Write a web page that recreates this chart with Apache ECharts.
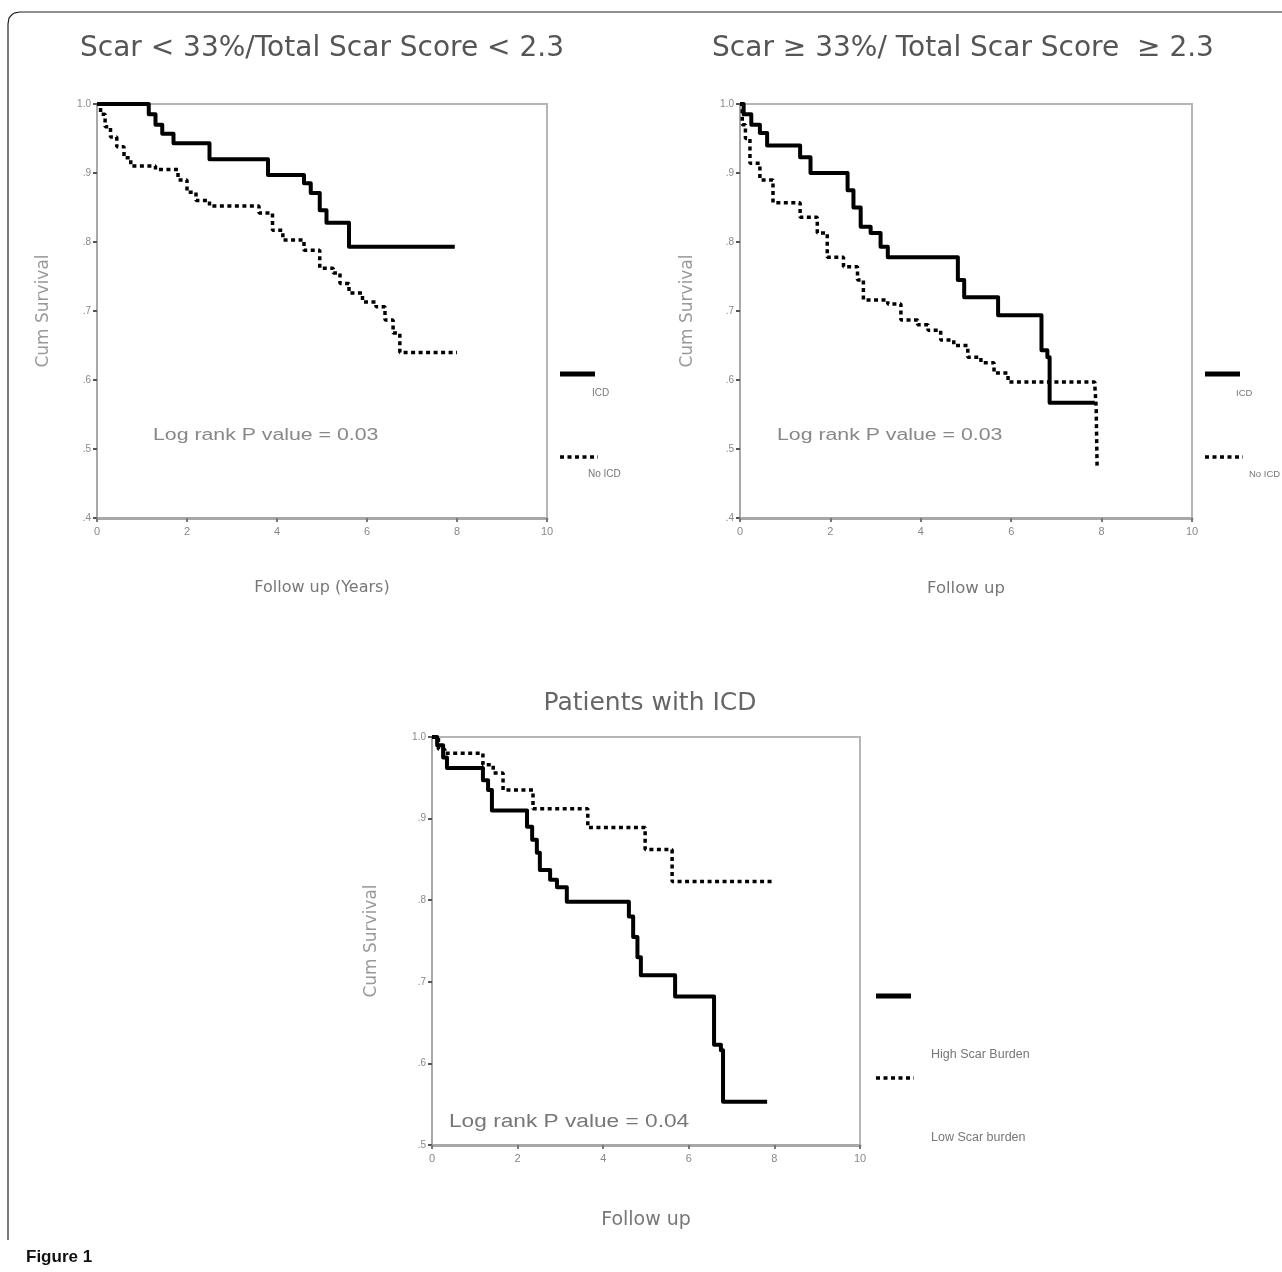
<!DOCTYPE html>
<html>
<head>
<meta charset="utf-8">
<script src="https://cdn.jsdelivr.net/npm/echarts/dist/echarts.min.js"></script>
<style>
html,body{margin:0;padding:0;background:#fff;}
#chart{width:1282px;height:1272px;}
</style>
</head>
<body>
<div id="chart"></div>
<script>
// ---- Data (time in years, cumulative survival) ----
const titleLeft = "Scar < 33%/Total Scar Score < 2.3";
const titleRight = "Scar \u2265 33%/ Total Scar Score  \u2265 2.3";
const titleBottom = "Patients with ICD";

const xTicks = [0, 2, 4, 6, 8, 10];
const yTicksTop = ["1.0", ".9", ".8", ".7", ".6", ".5", ".4"];
const yTicksBottom = ["1.0", ".9", ".8", ".7", ".6", ".5"];

// Top-left: Scar < 33%
const lowScarICD = [[0,1.0],[1.15,0.985],[1.3,0.97],[1.45,0.957],[1.7,0.943],[2.5,0.92],[3.8,0.897],[4.6,0.885],[4.75,0.871],[4.95,0.846],[5.1,0.828],[5.6,0.793],[7.95,0.793]];
const lowScarNoICD = [[0,1.0],[0.08,0.985],[0.18,0.967],[0.3,0.952],[0.44,0.938],[0.6,0.922],[0.75,0.91],[1.3,0.905],[1.8,0.89],[2.0,0.872],[2.2,0.86],[2.5,0.852],[3.6,0.842],[3.9,0.817],[4.13,0.803],[4.6,0.788],[4.95,0.762],[5.25,0.755],[5.4,0.74],[5.6,0.726],[5.9,0.713],[6.2,0.706],[6.4,0.687],[6.58,0.668],[6.73,0.64],[8.0,0.64]];

// Top-right: Scar >= 33%
const highScarICD = [[0,1.0],[0.08,0.985],[0.25,0.97],[0.44,0.958],[0.6,0.94],[1.33,0.923],[1.56,0.90],[2.38,0.875],[2.51,0.85],[2.67,0.822],[2.89,0.813],[3.11,0.793],[3.27,0.778],[4.82,0.745],[4.96,0.72],[5.71,0.694],[6.67,0.643],[6.8,0.633],[6.85,0.567],[7.85,0.567]];
const highScarNoICD = [[0,1.0],[0.05,0.97],[0.12,0.95],[0.22,0.914],[0.44,0.89],[0.73,0.857],[1.33,0.836],[1.71,0.813],[1.93,0.778],[2.29,0.764],[2.6,0.745],[2.73,0.716],[3.27,0.71],[3.56,0.687],[3.93,0.68],[4.16,0.672],[4.44,0.658],[4.73,0.65],[5.04,0.633],[5.33,0.625],[5.62,0.61],[5.93,0.597],[7.85,0.592],[7.88,0.56],[7.9,0.475]];

// Bottom: Patients with ICD
const icdHighBurden = [[0,1.0],[0.12,0.99],[0.26,0.975],[0.35,0.962],[1.19,0.947],[1.31,0.935],[1.4,0.91],[2.22,0.89],[2.34,0.874],[2.45,0.858],[2.52,0.837],[2.76,0.825],[2.92,0.816],[3.15,0.798],[4.6,0.78],[4.7,0.755],[4.8,0.73],[4.88,0.708],[5.68,0.682],[6.59,0.623],[6.75,0.616],[6.8,0.553],[7.83,0.553]];
const icdLowBurden = [[0,1.0],[0.15,0.985],[0.3,0.98],[1.19,0.966],[1.43,0.956],[1.66,0.935],[2.36,0.912],[3.64,0.889],[4.98,0.862],[5.61,0.823],[7.95,0.823]];

const pTextTop = "Log rank P value = 0.03";
const pTextBottom = "Log rank P value = 0.04";

// ---- Styling ----
const FONT = "Liberation Sans, Arial, sans-serif";
const TFONT = "DejaVu Sans, Liberation Sans, sans-serif";

function yLabel(v){
  if (Math.abs(v - 1) < 1e-6) return "1.0";
  return "." + Math.round(v * 10);
}

function xAxis(gi, name, gap, fs){
  return {
    type: "value", gridIndex: gi, min: 0, max: 10, interval: 2,
    name: name, nameLocation: "middle", nameGap: gap,
    nameTextStyle: {color: "#777", fontSize: fs, fontFamily: TFONT},
    axisLine: {show: true, lineStyle: {color: "#a8a8a8", width: 3}},
    axisTick: {show: true, length: 4, lineStyle: {color: "#777", width: 2}},
    axisLabel: {color: "#888", fontSize: 11, fontFamily: FONT, margin: 8},
    splitLine: {show: false}
  };
}
function yAxis(gi, min, gap){
  return {
    type: "value", gridIndex: gi, min: min, max: 1.0, interval: 0.1,
    name: "Cum Survival", nameLocation: "middle", nameGap: gap,
    nameTextStyle: {color: "#999", fontSize: 17, fontFamily: TFONT},
    axisLine: {show: true, lineStyle: {color: "#a8a8a8", width: 2}},
    axisTick: {show: true, length: 4, lineStyle: {color: "#555", width: 2}},
    axisLabel: {color: "#888", fontSize: 10, fontFamily: FONT, margin: 6, formatter: yLabel},
    splitLine: {show: false}
  };
}
function solid(data, xi){
  return {type: "line", xAxisIndex: xi, yAxisIndex: xi, data: data, step: "end",
    showSymbol: false, silent: true, animation: false,
    lineStyle: {color: "#000", width: 4, join: "round"}};
}
function dotted(data, xi){
  return {type: "line", xAxisIndex: xi, yAxisIndex: xi, data: data, step: "end",
    showSymbol: false, silent: true, animation: false,
    lineStyle: {color: "#000", width: 3.5, type: [4, 3.5]}};
}

const gridStyle = {show: true, borderColor: "#b5b5b5", borderWidth: 2, backgroundColor: "transparent"};

function legendGroup(x, ySolid, yDot, label1, lx1, ly1, label2, lx2, ly2, fs){
  return [
    {type: "line", shape: {x1: x, y1: ySolid, x2: x + 35, y2: ySolid}, style: {stroke: "#000", lineWidth: 5}},
    {type: "text", x: lx1, y: ly1, style: {text: label1, fill: "#777", font: fs + "px " + FONT, textVerticalAlign: "middle"}},
    {type: "line", shape: {x1: x, y1: yDot, x2: x + 38, y2: yDot}, style: {stroke: "#000", lineWidth: 3.5, lineDash: [4, 3.5]}},
    {type: "text", x: lx2, y: ly2, style: {text: label2, fill: "#777", font: fs + "px " + FONT, textVerticalAlign: "middle"}}
  ];
}

const chart = echarts.init(document.getElementById("chart"), null, {renderer: "canvas"});

const option = {
  backgroundColor: "#fff",
  animation: false,
  title: [
    {text: titleLeft, left: 317, top: 30, textAlign: "center",
      textStyle: {color: "#555", fontSize: 28, fontWeight: "normal", fontFamily: TFONT}},
    {text: titleRight, left: 958, top: 30, textAlign: "center",
      textStyle: {color: "#555", fontSize: 28, fontWeight: "normal", fontFamily: TFONT}},
    {text: titleBottom, left: 645, top: 686, textAlign: "center",
      textStyle: {color: "#666", fontSize: 25, fontWeight: "normal", fontFamily: TFONT}}
  ],
  grid: [
    Object.assign({left: 97, top: 104, width: 450, height: 414}, gridStyle),
    Object.assign({left: 740, top: 104, width: 452, height: 414}, gridStyle),
    Object.assign({left: 432, top: 737, width: 428, height: 408}, gridStyle)
  ],
  xAxis: [xAxis(0, "Follow up (Years)", 62, 16), xAxis(1, "Follow up", 62, 16.5), xAxis(2, "Follow up", 66, 19)],
  yAxis: [yAxis(0, 0.4, 45), yAxis(1, 0.4, 44), yAxis(2, 0.5, 52)],
  series: [
    solid(lowScarICD, 0), dotted(lowScarNoICD, 0),
    solid(highScarICD, 1), dotted(highScarNoICD, 1),
    solid(icdHighBurden, 2), dotted(icdLowBurden, 2)
  ],
  graphic: [
    // figure frame
    {type: "polyline", shape: {points: [[8,1240],[8,24],[9,18],[12,14.5],[15,12.8],[20,12],[1282,12]]},
      style: {stroke: "#222", lineWidth: 1.2, fill: null}},
    {type: "text", x: 26, y: 1257, style: {text: "Figure 1", fill: "#111", font: "bold 17px " + FONT, textVerticalAlign: "middle"}},
    // log rank texts
    {type: "text", x: 153, y: 436, scaleX: 1.33, style: {text: pTextTop, fill: "#888", font: "16px " + FONT, textVerticalAlign: "middle"}},
    {type: "text", x: 777, y: 436, scaleX: 1.33, style: {text: pTextTop, fill: "#888", font: "16px " + FONT, textVerticalAlign: "middle"}},
    {type: "text", x: 449, y: 1122, scaleX: 1.26, style: {text: pTextBottom, fill: "#777", font: "18px " + FONT, textVerticalAlign: "middle"}}
  ]
  .concat(legendGroup(560, 374, 457, "ICD", 592, 393, "No ICD", 588, 474, 10))
  .concat(legendGroup(1205, 374, 457, "ICD", 1236, 393, "No ICD", 1249, 474, 9.5))
  .concat(legendGroup(876, 996, 1078, "High Scar Burden", 931, 1055, "Low Scar burden", 931, 1138, 12.5))
};
chart.setOption(option);
</script>
</body>
</html>
